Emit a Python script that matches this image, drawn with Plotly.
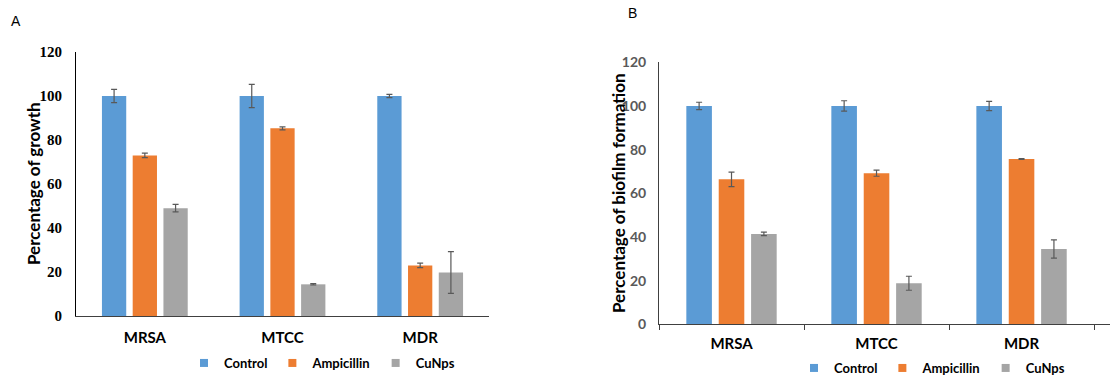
import plotly.graph_objects as go

categories = ["MRSA", "MTCC", "MDR"]
series_names = ["Control", "Ampicillin", "CuNps"]
colors = ["#5B9BD5", "#ED7D31", "#A5A5A5"]

# Panel A: Percentage of growth
growth_control = [100, 100, 100]
growth_control_err = [3.0, 5.3, 0.7]
growth_ampicillin = [73, 85.3, 23]
growth_ampicillin_err = [1.0, 0.7, 1.0]
growth_cunps = [49, 14.4, 19.8]
growth_cunps_err = [1.7, 0.3, 9.5]

# Panel B: Percentage of biofilm formation
biofilm_control = [100, 100, 100]
biofilm_control_err = [1.7, 2.4, 2.1]
biofilm_ampicillin = [66.4, 69.2, 75.7]
biofilm_ampicillin_err = [3.3, 1.4, 0.2]
biofilm_cunps = [41.4, 18.8, 34.5]
biofilm_cunps_err = [0.8, 3.2, 4.2]

y_ticks = [0, 20, 40, 60, 80, 100, 120]

W, H = 1110, 378
SANS = "Liberation Sans Narrow, Lato, Arial, sans-serif"
SERIF = "Liberation Serif, Times New Roman, serif"
ERR_COLOR = "#595959"

fig = go.Figure()

panelA = [(growth_control, growth_control_err), (growth_ampicillin, growth_ampicillin_err),
          (growth_cunps, growth_cunps_err)]
panelB = [(biofilm_control, biofilm_control_err), (biofilm_ampicillin, biofilm_ampicillin_err),
          (biofilm_cunps, biofilm_cunps_err)]

for (vals, errs), name, col in zip(panelA, series_names, colors):
    fig.add_trace(go.Bar(x=categories, y=vals, name=name, marker_color=col,
                         marker_line=dict(width=0),
                         error_y=dict(type="data", array=errs, color=ERR_COLOR, thickness=1.2, width=3),
                         xaxis="x", yaxis="y", showlegend=False))
for (vals, errs), name, col in zip(panelB, series_names, colors):
    fig.add_trace(go.Bar(x=categories, y=vals, name=name, marker_color=col,
                         marker_line=dict(width=0),
                         error_y=dict(type="data", array=errs, color=ERR_COLOR, thickness=1.2, width=3),
                         xaxis="x2", yaxis="y2", showlegend=False))

# legend entries (small square swatches)
for name, col in zip(series_names, colors):
    fig.add_trace(go.Scatter(x=[None], y=[None], mode="markers", name=name,
                             marker=dict(symbol="square", size=8, color=col),
                             xaxis="x", yaxis="y", legend="legend"))
for name, col in zip(series_names, colors):
    fig.add_trace(go.Scatter(x=[None], y=[None], mode="markers", name=name,
                             marker=dict(symbol="square", size=8, color=col),
                             xaxis="x2", yaxis="y2", legend="legend2"))

def px_x(p):
    return p / W

def px_y(p):
    return (H - p) / H

fig.update_layout(
    width=W, height=H,
    margin=dict(l=0, r=0, t=0, b=0, autoexpand=False),
    paper_bgcolor="white", plot_bgcolor="white",
    barmode="group", bargap=0.33, bargroupgap=0.21,
    xaxis=dict(domain=[px_x(76), px_x(489)], range=[-0.5, 2.5], type="category",
               anchor="y", showline=True, linecolor="#404040", linewidth=1, ticks="",
               showgrid=False,
               tickfont=dict(family=SANS, size=15, color="black", weight="bold"),
               ticklabelstandoff=8),
    yaxis=dict(domain=[px_y(316), px_y(52)], range=[0, 120], tickvals=y_ticks,
               anchor="x", showline=True, linecolor="black", linewidth=1, ticks="",
               showgrid=False, zeroline=False,
               tickfont=dict(family=SERIF, size=15, color="black", weight="bold"),
               ticklabelstandoff=10),
    xaxis2=dict(domain=[px_x(659), 1.0], range=[-0.5, 2.61], type="category",
                anchor="y2", showline=True, linecolor="#404040", linewidth=1, ticks="outside",
                tickson="boundaries", ticklen=5, tickcolor="#404040", showgrid=False,
                tickfont=dict(family=SANS, size=15, color="black", weight="bold"),
                ticklabelstandoff=6),
    yaxis2=dict(domain=[px_y(324.3), px_y(62.3)], range=[0, 120], tickvals=y_ticks,
                anchor="x2", showline=True, linecolor="#404040", linewidth=1, ticks="",
                showgrid=False, zeroline=False,
                tickfont=dict(family=SANS, size=14, color="#595959", weight="bold"),
                ticklabelstandoff=9),
    legend=dict(orientation="h", x=px_x(184), xanchor="left", y=px_y(363), yanchor="middle",
                font=dict(family=SANS, size=13, color="black", weight="bold"),
                bgcolor="rgba(0,0,0,0)"),
    legend2=dict(orientation="h", x=px_x(794), xanchor="left", y=px_y(368), yanchor="middle",
                 font=dict(family=SANS, size=13, color="black", weight="bold"),
                 bgcolor="rgba(0,0,0,0)"),
    annotations=[
        dict(text="A", x=px_x(16), y=px_y(21), xref="paper", yref="paper",
             xanchor="center", yanchor="middle", showarrow=False,
             font=dict(family="Liberation Sans, Arial, sans-serif", size=14, color="black")),
        dict(text="B", x=px_x(633), y=px_y(13), xref="paper", yref="paper",
             xanchor="center", yanchor="middle", showarrow=False,
             font=dict(family="Liberation Sans, Arial, sans-serif", size=14, color="black")),
        dict(text="Percentage of growth", x=px_x(33), y=px_y(184), xref="paper", yref="paper",
             xanchor="center", yanchor="middle", textangle=-90, showarrow=False,
             font=dict(family=SANS, size=17, color="black", weight="bold")),
        dict(text="Percentage of biofilm formation", x=px_x(618), y=px_y(193), xref="paper",
             yref="paper", xanchor="center", yanchor="middle", textangle=-90, showarrow=False,
             font=dict(family=SANS, size=17, color="black", weight="bold")),
    ],
)

fig.write_html("out.html", post_script="document.body.style.margin='0px';",
               config={"displayModeBar": False})
